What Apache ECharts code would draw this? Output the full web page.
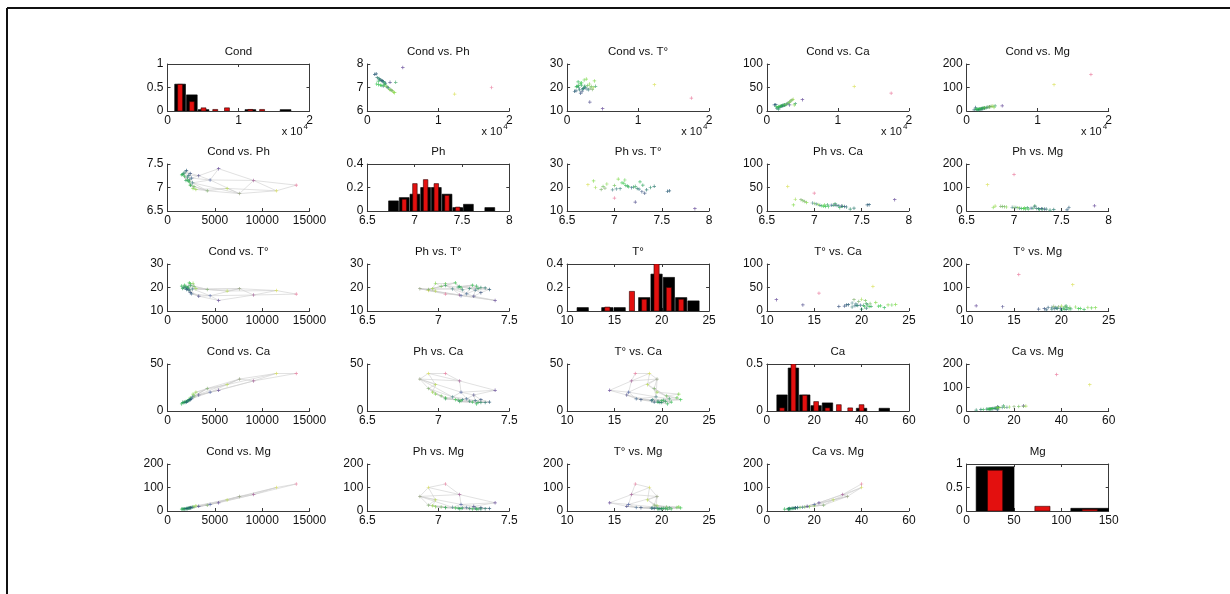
<!DOCTYPE html>
<html>
<head>
<meta charset="utf-8">
<script src="https://cdn.jsdelivr.net/npm/echarts@6/dist/echarts.min.js"></script>
<style>
  html, body { margin: 0; padding: 0; background: #fff; }
  #chart { width: 1230px; height: 594px; }
</style>
</head>
<body>
<div id="chart"></div>
<script>
// ---- variables ----
const varNames = ['Cond', 'Ph', 'T°', 'Ca', 'Mg'];

// ---- measured samples ----
const sampleCond = [17500, 12300, 5000, 3200,
  1050, 1250, 1400, 1550, 1650, 1750, 1900, 2000, 2100, 2200, 2300, 2450, 2550,
  1300, 1600, 1850, 2050, 2250, 2400, 2500, 2700, 2800, 2900, 3000, 3150, 3250, 3400, 3550, 3700, 3850, 4000];
const samplePh = [7.00, 6.72, 7.85, 7.22,
  7.56, 7.58, 7.42, 7.27, 7.38, 7.34, 7.32, 7.30, 7.29, 7.26, 7.24, 7.20, 7.18,
  7.15, 7.12, 7.10, 7.08, 7.06, 7.11, 7.14, 7.04, 7.02, 7.00, 6.98, 6.92, 6.90, 6.88, 6.86, 6.80, 6.78, 7.22];
const sampleTemp = [15.5, 21.2, 11.0, 13.8,
  18.4, 18.6, 20.5, 22.4, 20.0, 19.0, 17.6, 21.0, 18.2, 19.3, 19.6, 20.2, 19.9,
  20.3, 20.8, 21.8, 22.0, 19.5, 23.2, 20.6, 23.6, 19.4, 20.9, 19.0, 21.5, 19.7, 20.4, 19.2, 20.0, 22.8, 20.5];
const sampleCa = [38, 52, 24, 13,
  13.0, 13.5, 6.0, 7.0, 4.0, 8.5, 9.5, 10.0, 10.5, 11.0, 11.5, 12.0, 12.5,
  9.0, 9.5, 10.2, 11.0, 12.0, 12.8, 13.2, 14.0, 15.0, 16.0, 17.0, 18.0, 20.0, 22.0, 24.0, 25.0, 13.0, 15.5];
const sampleMg = [155, 112, 22, 18,
  5, 15, 6, 6, 4, 8, 8, 9, 10, 10, 11, 12, 12,
  8, 9, 10, 11, 12, 13, 14, 14, 15, 16, 16, 17, 18, 19, 20, 21, 15, 22];
// best-matching map unit of each sample (row-major index in the 6 x 5 map)
const sampleBmu = [0, 1, 10, 15,
  25, 25, 26, 29, 27, 26, 20, 28, 20, 21, 22, 23, 16,
  19, 24, 14, 14, 17, 9, 18, 4, 12, 8, 12, 4, 7, 8, 7, 3, 4, 13];

// ---- map prototypes (6 rows x 5 columns, row-major) ----
const mapRows = 6, mapCols = 5;
const protoCond = [13600, 11500, 6300, 3000, 2700,
  9100, 7600, 4200, 2800, 2400,
  5400, 4500, 2650, 2450, 2300,
  3300, 2550, 2350, 2200, 2100,
  2400, 2250, 2100, 1950, 1800,
  2000, 1850, 1700, 1600, 1500];
const protoPh = [7.05, 6.93, 6.98, 6.96, 6.98,
  7.15, 6.87, 6.93, 7.02, 7.05,
  7.40, 7.16, 7.10, 7.05, 7.12,
  7.25, 7.20, 7.17, 7.14, 7.16,
  7.30, 7.26, 7.22, 7.15, 7.24,
  7.36, 7.33, 7.30, 7.28, 7.27];
const protoTemp = [17.2, 18.7, 18.5, 19.5, 21.8,
  16.8, 19.5, 19.2, 20.5, 21.6,
  14.5, 16.5, 19.4, 20.8, 22.0,
  16.3, 17.3, 19.0, 20.2, 20.0,
  17.8, 18.9, 19.6, 20.4, 21.0,
  19.2, 19.8, 20.0, 19.6, 20.6];
const protoCa = [40, 40, 28, 20, 18,
  32, 34, 24, 16, 14,
  22, 20, 15, 13, 12,
  17, 13, 12, 11.5, 11,
  12, 11, 10.5, 10, 9.5,
  9.5, 9, 9.0, 9.2, 7.5];
const protoMg = [115, 100, 47, 22, 18,
  70, 62, 25, 17, 15,
  35, 28, 16, 14, 13,
  20, 15, 13, 12, 11,
  14, 12, 11, 10, 9,
  11, 10, 9, 9, 8];

// ---- histograms: bin centres, relative frequency of samples and of prototypes ----
const condBins = [1775, 3425, 5075, 6725, 8375, 10025, 11675, 13325, 14975, 16625];
const condDataFreq = [0.571, 0.343, 0.029, 0, 0, 0, 0.029, 0, 0, 0.029];
const condProtoFreq = [0.567, 0.2, 0.067, 0.033, 0.067, 0, 0.033, 0.033, 0, 0];
const phBins = [6.777, 6.890, 7.003, 7.116, 7.229, 7.342, 7.455, 7.568, 7.681, 7.794];
const phDataFreq = [0.086, 0.114, 0.143, 0.2, 0.2, 0.143, 0.029, 0.057, 0, 0.029];
const phProtoFreq = [0, 0.1, 0.233, 0.267, 0.233, 0.133, 0.033, 0, 0, 0];
const tempBins = [11.65, 12.95, 14.25, 15.55, 16.85, 18.15, 19.45, 20.75, 22.05, 23.35];
const tempDataFreq = [0.029, 0, 0.029, 0.029, 0, 0.114, 0.314, 0.286, 0.114, 0.086];
const tempProtoFreq = [0, 0, 0.033, 0, 0.167, 0.1, 0.4, 0.2, 0.1, 0];
const caBins = [6.4, 11.2, 16.0, 20.8, 25.6, 30.4, 35.2, 40.0, 44.8, 49.6];
const caDataFreq = [0.171, 0.457, 0.171, 0.057, 0.086, 0, 0, 0.029, 0, 0.029];
const caProtoFreq = [0.033, 0.5, 0.167, 0.1, 0.033, 0.067, 0.033, 0.067, 0, 0];
const mgBins = [30, 80, 130];
const mgDataFreq = [0.943, 0, 0.057];
const mgProtoFreq = [0.867, 0.1, 0.033];

// ---- axis ticks: [min, max, step] ----
const sampleAxisX = [[0, 20000, 10000], [6.5, 8, 0.5], [10, 25, 5], [0, 60, 20], [0, 150, 50]];
const sampleAxisY = [[0, 1, 0.5], [6, 8, 1], [10, 30, 10], [0, 100, 50], [0, 200, 100]];
const protoAxisX = [[0, 15000, 5000], [6.5, 7.5, 0.5], [10, 25, 5], [0, 60, 20], [0, 150, 50]];
const protoAxisY = [[0, 1, 0.5], [6.5, 7.5, 0.5], [10, 30, 10], [0, 50, 50], [0, 200, 100]];
const histAxisX = [[0, 20000, 10000], [6.5, 8, 0.5], [10, 25, 5], [0, 60, 20], [0, 150, 50]];
const histAxisY = [[0, 1, 0.5], [0, 0.4, 0.2], [0, 0.4, 0.2], [0, 0.5, 0.5], [0, 1, 0.5]];

// ---- assembly ----
const sampleCols = [sampleCond, samplePh, sampleTemp, sampleCa, sampleMg];
const protoCols = [protoCond, protoPh, protoTemp, protoCa, protoMg];
const histBins = [condBins, phBins, tempBins, caBins, mgBins];
const histData = [condDataFreq, phDataFreq, tempDataFreq, caDataFreq, mgDataFreq];
const histProto = [condProtoFreq, phProtoFreq, tempProtoFreq, caProtoFreq, mgProtoFreq];

const LEFT0 = 167.5, TOP0 = 64, STEP_X = 199.8, STEP_Y = 100, W = 142, H = 47;
const AXIS_COLOR = '#3a3a3a';
const TEXT_COLOR = '#111';
const FONT = '"Liberation Sans", Arial, Helvetica, sans-serif';

// map-grid colour code: anchors over (row, col) of the map
const anchorRows = [0, 2, 5];
const anchorCols = [0, 1, 4];
const anchorRGB = [
  [[232, 112, 150], [215, 222, 80], [120, 215, 60]],
  [[90, 60, 145], [70, 90, 160], [50, 200, 70]],
  [[20, 75, 105], [25, 110, 100], [35, 180, 75]]
];
function seg(anchors, v) {
  for (let k = 0; k < anchors.length - 1; k++) {
    if (v <= anchors[k + 1]) return [k, (v - anchors[k]) / (anchors[k + 1] - anchors[k])];
  }
  return [anchors.length - 2, 1];
}
function unitColor(u) {
  const r = Math.floor(u / mapCols), c = u % mapCols;
  const [ri, rt] = seg(anchorRows, r), [ci, ct] = seg(anchorCols, c);
  const rgb = [0, 1, 2].map(ch => {
    const a = anchorRGB[ri][ci][ch] * (1 - ct) + anchorRGB[ri][ci + 1][ch] * ct;
    const b = anchorRGB[ri + 1][ci][ch] * (1 - ct) + anchorRGB[ri + 1][ci + 1][ch] * ct;
    return Math.round(a * (1 - rt) + b * rt);
  });
  return 'rgb(' + rgb.join(',') + ')';
}
const protoColor = protoCond.map((_, u) => unitColor(u));
const sampleColor = sampleBmu.map(u => protoColor[u]);

// hexagonal map lattice neighbours
const mapEdges = [];
for (let r = 0; r < mapRows; r++) {
  for (let c = 0; c < mapCols; c++) {
    const u = r * mapCols + c;
    if (c + 1 < mapCols) mapEdges.push([u, u + 1]);
    if (r + 1 < mapRows) {
      mapEdges.push([u, u + mapCols]);
      const dc = (r % 2 === 0) ? -1 : 1;
      if (c + dc >= 0 && c + dc < mapCols) mapEdges.push([u, u + mapCols + dc]);
    }
  }
}

const PLUS = 'path://M-1,-0.2L-0.2,-0.2L-0.2,-1L0.2,-1L0.2,-0.2L1,-0.2L1,0.2L0.2,0.2L0.2,1L-0.2,1L-0.2,0.2L-1,0.2Z';

function fmt(scaleDiv) {
  return v => String(+(v / scaleDiv).toFixed(4));
}

const grids = [], xAxes = [], yAxes = [], series = [], graphics = [];

function makeAxis(dim, g, spec, opts) {
  const [min, max, interval] = spec;
  return Object.assign({
    type: 'value', gridIndex: g, min, max, interval,
    position: dim === 'x' ? 'bottom' : 'left',
    axisLine: { show: true, onZero: false, lineStyle: { color: AXIS_COLOR, width: 1 } },
    axisTick: { show: true, inside: true, length: 3, lineStyle: { color: AXIS_COLOR, width: 1 } },
    axisLabel: {
      show: true, color: TEXT_COLOR, fontSize: 12, fontFamily: FONT,
      margin: 4, formatter: fmt(1), showMinLabel: true, showMaxLabel: true
    },
    splitLine: { show: false }
  }, opts || {});
}

for (let i = 0; i < 5; i++) {
  for (let j = 0; j < 5; j++) {
    const g = grids.length;
    const left = LEFT0 + STEP_X * j, top = TOP0 + STEP_Y * i;
    grids.push({ left, top, width: W, height: H, containLabel: false });

    let xSpec, ySpec, xv, yv, title;
    if (i === j) {
      xSpec = histAxisX[i]; ySpec = histAxisY[i]; title = varNames[i];
    } else if (i < j) {
      xSpec = sampleAxisX[i]; ySpec = sampleAxisY[j]; xv = i; yv = j;
      title = varNames[i] + ' vs. ' + varNames[j];
    } else {
      xSpec = protoAxisX[j]; ySpec = protoAxisY[i]; xv = j; yv = i;
      title = varNames[j] + ' vs. ' + varNames[i];
    }
    const xScaled = (i === 0);   // first row runs along Cond in units of 10^4
    const xi = xAxes.length, yi = yAxes.length;
    const xAxis = makeAxis('x', g, xSpec);
    if (xScaled) xAxis.axisLabel.formatter = fmt(10000);
    xAxes.push(xAxis);
    yAxes.push(makeAxis('y', g, ySpec));

    if (i === j) {
      // closed box with ticks on all four sides
      xAxes.push(makeAxis('x', g, xSpec, { position: 'top', axisLabel: { show: false } }));
      yAxes.push(makeAxis('y', g, ySpec, { position: 'right', axisLabel: { show: false } }));
      const bins = histBins[i];
      const binW = bins.length > 1 ? bins[1] - bins[0] : 1;
      const barSeries = (freq, frac, fill, stroke) => ({
        type: 'custom', xAxisIndex: xi, yAxisIndex: yi, clip: true, silent: true,
        data: bins.map((c, k) => [c, freq[k]]),
        encode: { x: 0, y: 1 },
        renderItem: (params, api) => {
          const c = api.value(0), h = api.value(1);
          if (!h) return null;
          const p0 = api.coord([c - binW * frac / 2, h]);
          const p1 = api.coord([c + binW * frac / 2, 0]);
          return {
            type: 'rect',
            shape: { x: p0[0], y: p0[1], width: p1[0] - p0[0], height: p1[1] - p0[1] },
            style: { fill, stroke, lineWidth: 0.6 }
          };
        }
      });
      series.push(barSeries(histData[i], i === 4 ? 0.8 : 0.92, '#000', '#000'));
      series.push(barSeries(histProto[i], i === 4 ? 0.32 : 0.42, '#e3100f', '#300'));
    } else if (i < j) {
      const xs = sampleCols[xv], ys = sampleCols[yv];
      series.push({
        type: 'scatter', xAxisIndex: xi, yAxisIndex: yi, symbol: PLUS, symbolSize: 3.5, silent: true,
        data: xs.map((x, k) => ({ value: [x, ys[k]], itemStyle: { color: sampleColor[k] } }))
      });
    } else {
      const xs = protoCols[xv], ys = protoCols[yv];
      series.push({
        type: 'lines', coordinateSystem: 'cartesian2d', xAxisIndex: xi, yAxisIndex: yi, silent: true,
        polyline: false, lineStyle: { color: '#cdcdcd', width: 0.6, opacity: 1 },
        data: mapEdges.map(([a, b]) => ({ coords: [[xs[a], ys[a]], [xs[b], ys[b]]] }))
      });
      series.push({
        type: 'scatter', xAxisIndex: xi, yAxisIndex: yi, symbol: PLUS, symbolSize: 3.5, silent: true,
        data: xs.map((x, k) => ({ value: [x, ys[k]], itemStyle: { color: protoColor[k] } }))
      });
    }

    graphics.push({
      type: 'text', x: left + W / 2, y: top - 12,
      style: { text: title, font: '11.5px ' + FONT, fill: TEXT_COLOR, textAlign: 'center', textVerticalAlign: 'middle', align: 'center', verticalAlign: 'middle' }
    });
    if (xScaled) {
      graphics.push({
        type: 'text', x: left + W - 7, y: top + H + 21,
        style: { text: 'x 10', font: '11px ' + FONT, fill: TEXT_COLOR, textAlign: 'right', textVerticalAlign: 'middle', align: 'right', verticalAlign: 'middle' }
      });
      graphics.push({
        type: 'text', x: left + W - 6, y: top + H + 16,
        style: { text: '4', font: '8px ' + FONT, fill: TEXT_COLOR, textAlign: 'left', textVerticalAlign: 'middle', align: 'left', verticalAlign: 'middle' }
      });
    }
  }
}

// figure frame
graphics.push({ type: 'line', shape: { x1: 7, y1: 8, x2: 1230, y2: 8 }, style: { stroke: '#111', lineWidth: 2 } });
graphics.push({ type: 'line', shape: { x1: 7, y1: 8, x2: 7, y2: 594 }, style: { stroke: '#111', lineWidth: 2 } });

const chart = echarts.init(document.getElementById('chart'), null, { renderer: 'canvas' });
chart.setOption({
  animation: false,
  backgroundColor: '#fff',
  grid: grids,
  xAxis: xAxes,
  yAxis: yAxes,
  series,
  graphic: graphics
});
</script>
</body>
</html>
